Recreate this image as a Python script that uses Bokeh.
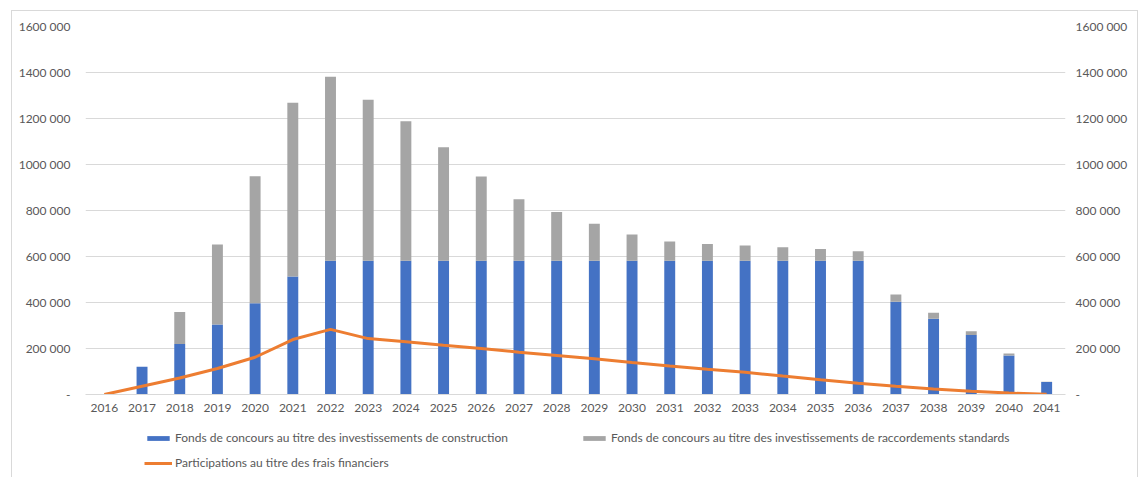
from bokeh.plotting import figure
from bokeh.layouts import column
from bokeh.models import (LinearAxis, CustomJSTickFormatter, Legend, LegendItem,
                          FixedTicker, Range1d, ColumnDataSource)
from bokeh.embed import file_html
from bokeh.resources import INLINE

years = [str(y) for y in range(2016, 2042)]
construction = [0, 121000, 220000, 304000, 397000, 513000, 582000, 582000, 582000, 582000,
                582000, 582000, 582000, 582000, 582000, 582000, 582000, 582000, 582000, 582000,
                582000, 403000, 329000, 259000, 170000, 54000]
totals = [0, 121000, 359000, 652000, 949000, 1268000, 1381000, 1281000, 1188000, 1075000,
          948000, 849000, 793000, 742000, 696000, 665000, 654000, 648000, 640000, 633000,
          623000, 435000, 355000, 275000, 178000, 55000]
raccordements = [t - c for t, c in zip(totals, construction)]
participations = [0, 36000, 72000, 113000, 162000, 239000, 283000, 243000, 229000, 214000,
                  200000, 184000, 170000, 155000, 139000, 124000, 110000, 97000, 80000, 64000,
                  49000, 36000, 24000, 14000, 6000, 1000]
y_ticks = [0, 200000, 400000, 600000, 800000, 1000000, 1200000, 1400000, 1600000]

lab_constr = "Fonds de concours au titre des investissements de construction"
lab_racc = "Fonds de concours au titre des investissements de raccordements standards"
lab_part = "Participations au titre des frais financiers"

BLUE = "#4472C4"
GRAY = "#A5A5A5"
ORANGE = "#ED7D31"
TXT = "#595959"
GRID = "#D9D9D9"
FONT = "Lato"

src = ColumnDataSource(dict(years=years, construction=construction,
                            raccordements=raccordements, participations=participations))

# main chart: screen y 11..430, x 12..1137
p = figure(x_range=years, y_range=Range1d(0, 1600000), width=1125, height=419,
           output_backend="svg", toolbar_location=None,
           min_border_left=73, min_border_right=72, min_border_top=15, min_border_bottom=36)
p.x_range.range_padding = 0
p.outline_line_color = None
p.background_fill_color = "white"
p.border_fill_color = "white"

bars = p.vbar_stack(["construction", "raccordements"], x="years", width=0.29,
                    color=[BLUE, GRAY], line_color=None, source=src)
ln = p.line(x="years", y="participations", line_color=ORANGE, line_width=3, source=src)

fmt = CustomJSTickFormatter(code="return tick == 0 ? '-' : (tick/1000).toFixed(0) + ' 000';")

p.yaxis.ticker = FixedTicker(ticks=y_ticks)
p.yaxis.formatter = fmt
right = LinearAxis(ticker=FixedTicker(ticks=y_ticks), formatter=fmt)
p.add_layout(right, "right")

for ax in [p.yaxis[0], right, p.xaxis[0]]:
    ax.major_tick_line_color = None
    ax.minor_tick_line_color = None
    ax.major_tick_out = 0
    ax.major_tick_in = 0
    ax.minor_tick_out = 0
    ax.major_label_text_color = TXT
    ax.major_label_text_font = FONT
    ax.major_label_text_font_size = "12px"
p.yaxis[0].axis_line_color = None
right.axis_line_color = None
p.yaxis[0].major_label_standoff = 15
right.major_label_standoff = 10
p.xaxis.axis_line_color = GRID
p.xaxis.major_label_standoff = 9

p.xgrid.grid_line_color = None
p.ygrid.ticker = FixedTicker(ticks=y_ticks)
p.ygrid.grid_line_color = GRID
p.ygrid.grid_line_width = 1

# legend strip: screen y 430..477 (its frame is aligned with the main frame: x 85..1065)
lf = figure(width=1125, height=47, x_range=Range1d(0, 1), y_range=Range1d(0, 1),
            output_backend="svg", toolbar_location=None,
            min_border_left=73, min_border_right=72, min_border_top=0, min_border_bottom=0)
lf.axis.visible = False
lf.grid.visible = False
lf.outline_line_color = None
lf.background_fill_color = "white"
lf.border_fill_color = "white"
off = ColumnDataSource(dict(x=[-10, -11], top=[-10, -10], y=[-10, -10]))
lb = lf.vbar(x="x", top="top", width=0.1, color=BLUE, line_color=None, source=off)
lg = lf.vbar(x="x", top="top", width=0.1, color=GRAY, line_color=None, source=off)
ll = lf.line(x="x", y="y", line_color=ORANGE, line_width=3, source=off)

def mk_legend(label, rends, loc):
    leg = Legend(items=[LegendItem(label=label, renderers=rends)], location=loc,
                 orientation="horizontal", padding=0, margin=0, spacing=0,
                 glyph_width=28, glyph_height=6, label_standoff=3, label_height=15,
                 label_text_font=FONT, label_text_font_size="12px", label_text_color=TXT,
                 border_line_color=None, background_fill_alpha=0)
    lf.add_layout(leg, "center")

mk_legend(lab_constr, [lb], (59, 32))
mk_legend(lab_racc, [lg], (495, 32))
mk_legend(lab_part, [ll], (59, 7))

layout = column(p, lf, spacing=0)
layout.margin = (10, 0, 0, 11)
layout.styles = {"border-left": "1px solid #D9D9D9", "border-top": "1px solid #D9D9D9",
                 "border-right": "1px solid #D9D9D9"}

open("out.html", "w").write(file_html(layout, INLINE))
